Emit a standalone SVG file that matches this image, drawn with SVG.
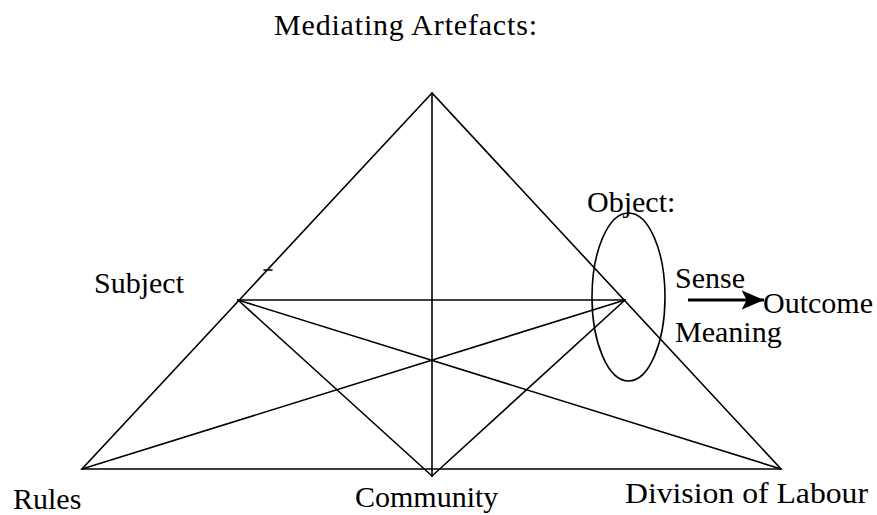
<svg xmlns="http://www.w3.org/2000/svg" width="877" height="515" viewBox="0 0 877 515">
<style>
text{font-family:"Liberation Serif","Times New Roman",serif;font-size:30px;fill:#000}
.ln{stroke:#000;stroke-width:1.6;fill:none;stroke-linecap:round}
</style>
<defs>
<marker id="ah" markerWidth="8" markerHeight="6" refX="7" refY="3" orient="auto" markerUnits="strokeWidth">
<path d="M7,3 L0,0 L1.6,3 L0,6 Z" fill="#000"/>
</marker>
</defs>
<rect width="877" height="515" fill="#fff"/>
<g id="connectors">
<polygon class="ln" points="432,93 82,469 781,469"/>
<line class="ln" x1="432" y1="93" x2="432" y2="476"/>
<line class="ln" x1="238" y1="300" x2="625" y2="300"/>
<line class="ln" x1="238" y1="300" x2="781" y2="469"/>
<line class="ln" x1="625" y1="300" x2="82" y2="469"/>
<line class="ln" x1="238" y1="300" x2="432" y2="476"/>
<line class="ln" x1="625" y1="300" x2="432" y2="476"/>
<line class="ln" x1="264" y1="270" x2="272" y2="270"/>
<line x1="688" y1="300" x2="764" y2="300" stroke="#000" stroke-width="3.2" marker-end="url(#ah)"/>
</g>
<g id="mediating"><text x="274" y="35" textLength="263" lengthAdjust="spacing">Mediating Artefacts:</text></g>
<g id="subject"><text x="94" y="293">Subject</text></g>
<g id="object">
<ellipse class="ln" cx="628.5" cy="297" rx="36.5" ry="84"/>
<text x="587" y="212">Object:</text>
</g>
<g id="sense"><text x="675" y="288">Sense</text></g>
<g id="meaning"><text x="675" y="342">Meaning</text></g>
<g id="outcome"><text x="763" y="313">Outcome</text></g>
<g id="rules"><text x="13" y="509">Rules</text></g>
<g id="community"><text x="355" y="507">Community</text></g>
<g id="division"><text x="625" y="503" textLength="243" lengthAdjust="spacingAndGlyphs">Division of Labour</text></g>
</svg>
